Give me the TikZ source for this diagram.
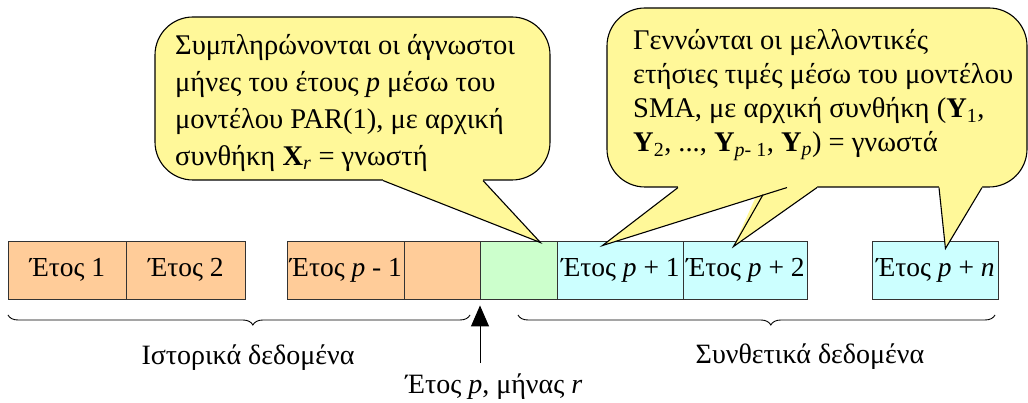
\documentclass[tikz,border=0pt]{standalone}
\usepackage{fontspec}
\setmainfont{Liberation Serif}
\usetikzlibrary{decorations.pathreplacing,arrows.meta}
\definecolor{peach}{HTML}{FFCC99}
\definecolor{mint}{HTML}{CCFFCC}
\definecolor{aqua}{HTML}{CCFFFF}
\definecolor{note}{HTML}{FFF899}
\begin{document}
\begin{tikzpicture}[x=1pt,y=1pt,
  yearbox/.style={draw=black!80, line width=0.9pt, minimum height=58pt, inner sep=0pt, font=\fontsize{27.5}{30}\selectfont, anchor=west},
  calloutbody/.style={draw=black, line width=1.1pt, fill=note, rounded corners=38pt, inner sep=0pt},
  callouttext/.style={align=left, inner sep=0pt, anchor=base west},
  ptr/.style={draw=black, line width=1.1pt, line join=miter},
  lbl/.style={font=\fontsize{28}{30}\selectfont, inner sep=0pt},
  brc/.style={decorate, decoration={brace, mirror, amplitude=10pt, aspect=0.53}, line width=0.9pt}
]
\useasboundingbox (0,0) rectangle (1028,-403);

% year boxes
\node[yearbox, fill=peach, minimum width=118pt] (b1) at (8,-270) {\makebox[0pt]{Έτος 1}};
\node[yearbox, fill=peach, minimum width=119pt] (b2) at (126,-270) {\makebox[0pt]{Έτος 2}};
\node[yearbox, fill=peach, minimum width=117pt] (b3) at (287,-270) {\makebox[0pt]{Έτος \textit{p} - 1}};
\node[yearbox, fill=peach, minimum width=76pt] (b4) at (404,-270) {};
\node[yearbox, fill=mint, minimum width=77pt] (g) at (480,-270) {};
\node[yearbox, fill=aqua, minimum width=126pt] (y1) at (557,-270) {\makebox[0pt]{Έτος \textit{p} + 1}};
\node[yearbox, fill=aqua, minimum width=124pt] (y2) at (683,-270) {\makebox[0pt]{Έτος \textit{p} + 2}};
\node[yearbox, fill=aqua, minimum width=126pt] (yn) at (872,-270) {\makebox[0pt]{Έτος \textit{p} + \textit{n}}};

% callout 1
\node[calloutbody, minimum width=395pt, minimum height=163pt] (n1) at (352.5,-98.5) {};
\coordinate (tip1) at ([xshift=21.5pt,yshift=-2pt]g.north);
\fill[note] ([xshift=30.5pt]n1.south) -- (tip1) -- ([xshift=130.5pt]n1.south) -- ([xshift=130.5pt,yshift=3pt]n1.south) -- ([xshift=30.5pt,yshift=3pt]n1.south) -- cycle;
\draw[ptr] ([xshift=30.5pt]n1.south) -- (tip1) -- ([xshift=130.5pt]n1.south);
\node[callouttext, font=\fontsize{28.5}{37}\selectfont] (t1) at (175,-166)
  {Συμπληρώνονται οι άγνωστοι\\ μήνες του έτους \textit{p} μέσω του\\ μοντέλου PAR(1), με αρχική\\ συνθήκη \textbf{X}\textsubscript{\textit{r}} = γνωστή};

% callout 2
\node[calloutbody, minimum width=420pt, minimum height=179pt] (n2) at (817,-97.5) {};
\coordinate (tipA) at ([xshift=-18pt,yshift=-5pt]y1.north);
\coordinate (tipB) at ([xshift=-12pt,yshift=-6pt]y2.north);
\coordinate (tipC) at ([xshift=10pt,yshift=-8pt]yn.north);
\fill[note] ([xshift=-139pt]n2.south) -- (tipA) -- ([xshift=-30pt]n2.south) -- ([xshift=-30pt,yshift=3pt]n2.south) -- ([xshift=-139pt,yshift=3pt]n2.south) -- cycle;
\fill[note] ([xshift=-57pt]n2.south) -- (tipB) -- ([xshift=0pt]n2.south) -- ([xshift=0pt,yshift=3pt]n2.south) -- ([xshift=-57pt,yshift=3pt]n2.south) -- cycle;
\fill[note] ([xshift=122pt]n2.south) -- (tipC) -- ([xshift=165pt]n2.south) -- ([xshift=165pt,yshift=3pt]n2.south) -- ([xshift=122pt,yshift=3pt]n2.south) -- cycle;
\draw[ptr] ([xshift=-139pt]n2.south) -- (tipA) -- ([xshift=-30pt]n2.south);
\draw[ptr] (763,-194.7) -- (tipB) -- ([xshift=0pt]n2.south);
\draw[ptr] ([xshift=122pt]n2.south) -- (tipC) -- ([xshift=165pt]n2.south);
\node[callouttext, font=\fontsize{28.5}{34}\selectfont] (t2) at (633,-152)
  {Γεννώνται οι μελλοντικές\\ ετήσιες τιμές μέσω του μοντέλου\\ SMA, με αρχική συνθήκη (\textbf{Y}\textsubscript{1},\\ \textbf{Y}\textsubscript{2}, ..., \textbf{Y}\textsubscript{\textit{p}- 1}, \textbf{Y}\textsubscript{\textit{p}}) = γνωστά};

% braces
\draw[brc] (8,-315) -- (470,-315);
\draw[brc] (518,-315) -- (995,-315);

% arrow
\coordinate (atail) at (480,-363);
\draw[line width=1pt, -{Triangle[width=18pt,length=21pt]}] (atail) -- ([yshift=-6pt]g.south west);

% labels
\node[lbl] (hist) at (248,-358) {Ιστορικά δεδομένα};
\node[lbl] (synth) at (810,-357) {Συνθετικά δεδομένα};
\node[lbl] (pr) at (494,-387) {Έτος \textit{p}, μήνας \textit{r}};
\end{tikzpicture}
\end{document}
